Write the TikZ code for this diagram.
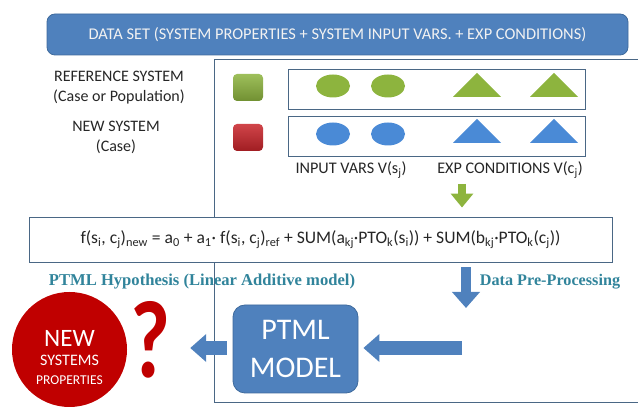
\documentclass[tikz,border=0pt]{standalone}
\usepackage{fontspec}
\setmainfont{Carlito}
\newfontfamily\hypfont{Liberation Serif}
\usepackage{graphicx}
\usetikzlibrary{arrows.meta,positioning}
\definecolor{boxblue}{HTML}{4F81BD}
\definecolor{boxedge}{HTML}{3E6A9C}
\definecolor{frameline}{HTML}{4A6785}
\definecolor{leaf}{HTML}{8DB43E}
\definecolor{dotblue}{HTML}{4A8AD6}
\definecolor{brick}{HTML}{C8242A}
\definecolor{deepred}{HTML}{C00000}
\definecolor{tealtext}{HTML}{31849B}
\tikzset{
  banner/.style={draw=boxedge,fill=boxblue,rounded corners=8pt,line width=0.8pt,
    minimum width=581pt,minimum height=41pt,text=white!95!black,font=\fontsize{16.4}{19}\selectfont},
  rowbox/.style={draw=frameline,line width=0.9pt,minimum width=297pt,minimum height=40pt,inner sep=0pt},
  marker/.style={rounded corners=4pt,minimum width=30pt,minimum height=27pt,inner sep=0pt},
  sidelabel/.style={align=center,font=\fontsize{16}{20}\selectfont,text=black!85},
  varlabel/.style={font=\fontsize{16.2}{19}\selectfont,text=black!85},
  hyptext/.style={text=tealtext,font=\hypfont\bfseries\fontsize{16.2}{19}\selectfont},
  fatarrow/.style={boxblue,line width=14pt,-{Triangle[width=27pt,length=16pt]}},
}
\newcommand\sbx[1]{\textsubscript{#1}}
\begin{document}
\begin{tikzpicture}[x=1pt,y=-1pt]
\useasboundingbox (0,0) rectangle (638,411);
\node[banner] (dataset) at (337.5,34.5) {DATA SET (SYSTEM PROPERTIES + SYSTEM INPUT VARS. + EXP CONDITIONS)};
\draw[frameline,line width=0.9pt] (638,59) -- (214,59) -- (214,402) -- (638,402);
\node[sidelabel] (reflabel) at (119,88) {REFERENCE SYSTEM\\(Case or Population)};
\node[sidelabel] (newlabel) at (116,137) {NEW SYSTEM\\(Case)};
\node[marker,top color=leaf!85!white,bottom color=leaf!80!black] (refsq) at (248,87.5) {};
\node[marker,top color=brick!85!white,bottom color=brick!80!black] (newsq) at (248,137.5) {};
\node[rowbox] (refrow) at (437,89) {};
\node[rowbox] (newrow) at (437,136) {};
\foreach \x in {333,388}{
  \fill[leaf] (\x,86) ellipse (17 and 11.5);
  \fill[dotblue] (\x,134) ellipse (17 and 11.5);
}
\foreach \x in {477,554}{
  \fill[leaf] (\x-24,97) -- (\x+24,97) -- (\x,73) -- cycle;
  \fill[dotblue] (\x-24,143) -- (\x+24,143) -- (\x,119) -- cycle;
}
\node[varlabel] (inputs) at (351,170) {INPUT VARS V(s\sbx{j})};
\node[varlabel] (conds) at (510,170) {EXP CONDITIONS V(c\sbx{j})};
\node[draw=frameline,fill=white,line width=0.9pt,minimum width=583pt,minimum height=45pt,
  text=black!85,font=\fontsize{17.6}{20}\selectfont] (formula) at (320.5,239.5)
  {f(s\sbx{i}, c\sbx{j})\sbx{new} = a\sbx{0} + a\sbx{1}· f(s\sbx{i}, c\sbx{j})\sbx{ref} + SUM(a\sbx{kj}·PTO\sbx{k}(s\sbx{i})) + SUM(b\sbx{kj}·PTO\sbx{k}(c\sbx{j}))};
\coordinate (gtop) at (462,184);
\draw[leaf,line width=8pt,-{Triangle[width=22pt,length=14pt]}] (gtop) -- (gtop |- formula.north) [shorten >=9pt];
\node[hyptext,font=\hypfont\bfseries\fontsize{16.6}{19}\selectfont] (hyp) at (202,282) {PTML Hypothesis (Linear Additive model)};
\node[hyptext] (prep) at (550,282) {Data Pre-Processing};
\node[draw=boxedge,fill=boxblue,rounded corners=12pt,line width=0.8pt,minimum width=125pt,
  minimum height=88pt,align=center,text=white,font=\fontsize{30}{38}\selectfont] (ptml) at (295.5,349) {PTML\\MODEL};
\node[circle,fill=deepred,minimum size=115pt,inner sep=0pt] (newprops) at (69.5,349.5) {};
\node[align=center,text=white,font=\fontsize{16}{20}\selectfont] (newpropstext) at (69.5,358)
  {\fontsize{25}{25}\selectfont NEW\\[-1pt]\fontsize{16}{20}\selectfont SYSTEMS\\[-1pt]\fontsize{13.5}{20}\selectfont PROPERTIES};
\node[text=deepred,inner sep=0pt] (qmark) at (151,340) {\resizebox{40pt}{76pt}{\bfseries ?}};
\coordinate (pp) at (466,308);
\coordinate (ptin) at (462,348);
\draw[fatarrow,line width=10pt] (formula.south -| pp) -- (pp) [shorten <=5pt];
\draw[fatarrow] (ptin) -- (ptml.east |- ptin) [shorten >=5pt];
\draw[fatarrow] (ptml.west |- ptin) -- (qmark.east |- ptin) [shorten <=6pt,shorten >=19pt];
\end{tikzpicture}
\end{document}
